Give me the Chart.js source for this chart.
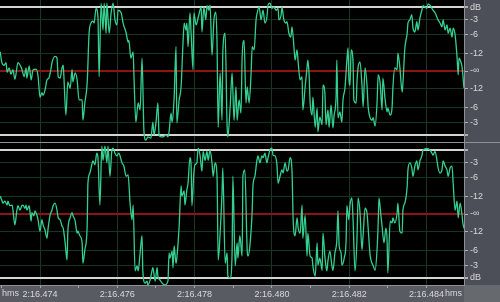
<!DOCTYPE html>
<html>
<head>
<meta charset="utf-8">
<script src="https://cdn.jsdelivr.net/npm/chart.js@4.4.0/dist/chart.umd.min.js"></script>
<style>
  html, body { margin: 0; padding: 0; background: #000; }
  #wrap { position: relative; width: 500px; height: 302px; overflow: hidden; background: #4c4f57; }
  #chTop { position: absolute; left: 0; top: 0; }
  #sep { position: absolute; left: 0; top: 142px; width: 500px; height: 1px; background: #8e9096; }
  #chBottom { position: absolute; left: 0; top: 143px; }
</style>
</head>
<body>
<div id="wrap">
  <canvas id="chTop" width="500" height="142"></canvas>
  <div id="sep"></div>
  <canvas id="chBottom" width="500" height="159"></canvas>
</div>
<script>
// time in ms relative to 2:16.474, level in display units (1 = 0 dB, 0 = -inf)
const timeMin = -1.035;
const timeMax = 10.97;

const timeTicks = [-1, 0, 1, 2, 3, 4, 5, 6, 7, 8, 9, 10];
const timeLabels = ['', '2:16.474', '', '2:16.476', '', '2:16.478', '', '2:16.480', '', '2:16.482', '', '2:16.484'];

const levelTicks = [-1, -0.8, -0.57, -0.28, 0, 0.28, 0.57, 0.8, 1];
const dbLabelsTop = ['', '-3', '-6', '-12', '-∞', '-12', '-6', '-3', 'dB'];
const dbLabelsBottom = ['dB', '-3', '-6', '-12', '-∞', '-12', '-6', '-3', ''];

// channel 1 (top)
const timesL = [
  -1.03, -0.99, -0.93, -0.88, -0.85, -0.80, -0.75, -0.70, -0.65, -0.57, -0.49, -0.47, -0.41, -0.36, -0.34, -0.28, -0.23, -0.18, -0.10, -0.05,
  0, 0.05, 0.08, 0.13, 0.18, 0.23, 0.28, 0.31, 0.39, 0.44, 0.47, 0.52, 0.57, 0.60, 0.62, 0.67, 0.72, 0.78, 0.83, 0.85, 0.91, 0.96,
  1.01, 1.09, 1.11, 1.16, 1.22, 1.27, 1.32, 1.37, 1.40, 1.45, 1.50, 1.53, 1.58, 1.63, 1.66, 1.71, 1.73, 1.79, 1.84, 1.89, 1.94, 1.99,
  2.02, 2.10, 2.15, 2.23, 2.28, 2.30, 2.35, 2.41, 2.43, 2.48, 2.54, 2.59, 2.64, 2.69, 2.74, 2.79, 2.87, 2.92, 2.95,
  3.00, 3.05, 3.08, 3.13, 3.18, 3.26, 3.31, 3.34, 3.39, 3.42, 3.47, 3.52, 3.54, 3.60, 3.65, 3.70, 3.73, 3.78, 3.80, 3.83, 3.88, 3.91, 3.96, 3.98,
  4.04, 4.09, 4.11, 4.17, 4.19, 4.24, 4.29, 4.32, 4.37, 4.40, 4.45, 4.50, 4.55, 4.58, 4.61, 4.66, 4.71, 4.73, 4.79, 4.84, 4.86, 4.92, 4.97,
  5.02, 5.07, 5.10, 5.15, 5.20, 5.23, 5.28, 5.33, 5.36, 5.41, 5.46, 5.49, 5.54, 5.59, 5.61, 5.67, 5.72, 5.77, 5.82, 5.87, 5.90, 5.95,
  6.00, 6.05, 6.11, 6.16, 6.18, 6.24, 6.26, 6.31, 6.36, 6.39, 6.44, 6.49, 6.52, 6.57, 6.60, 6.65, 6.68, 6.73, 6.78, 6.80, 6.86, 6.91, 6.93, 6.96,
  6.99, 7.04, 7.06, 7.12, 7.17, 7.19, 7.24, 7.30, 7.32, 7.37, 7.40, 7.45, 7.48, 7.53, 7.58, 7.61, 7.66, 7.68, 7.71, 7.76, 7.81, 7.84, 7.89, 7.94, 7.97, 7.99,
  8.02, 8.05, 8.10, 8.12, 8.18, 8.20, 8.23, 8.28, 8.33, 8.36, 8.41, 8.46, 8.49, 8.54, 8.59, 8.62, 8.67, 8.72, 8.75, 8.80, 8.85, 8.87, 8.93, 8.98,
  9.00, 9.06, 9.11, 9.13, 9.18, 9.24, 9.26, 9.31, 9.37, 9.39, 9.44, 9.50, 9.52, 9.57, 9.62, 9.65, 9.70, 9.75, 9.78, 9.83, 9.88, 9.91, 9.96,
  10.01, 10.04, 10.09, 10.14, 10.17, 10.22, 10.27, 10.30, 10.35, 10.40, 10.43, 10.48, 10.53, 10.56, 10.61, 10.66, 10.69, 10.74, 10.79, 10.82, 10.84, 10.89, 10.92, 10.97
];
const levelL = [
  0.30, 0.14, 0.09, 0.13, -0.02, 0.05, -0.05, 0.02, -0.13, 0.13, 0.06, 0.03, -0.09, 0.05, -0.11, 0.08, -0.14, 0.02, 0.03, -0.08,
  -0.41, -0.34, -0.38, -0.30, -0.14, -0.11, 0.02, 0.13, 0.23, 0.20, -0.09, -0.11, 0.05, 0.09, -0.11, -0.69, -0.17, -0.27, 0.02, -0.17, -0.03, -0.14,
  -0.45, -0.45, -0.77, -0.50, -0.19, 0.59, 0.75, 0.78, 0.75, 0.98, 0.83, -0.09, 1.06, 0.64, 1.06, 0.59, 1.06, 0.59, 0.91, 1.06, 0.80, 0.72,
  0.95, 0.91, 0.75, 0.59, 0.45, 0.48, 0.20, 0.30, -0.06, -0.80, -0.50, -0.61, 0.20, -0.95, -1.08, -1.03, -1.05, -0.80, -1.00,
  -0.81, -0.50, -1.00, -1.03, -1.03, -1.00, -1.03, -0.95, -0.66, -0.80, -0.42, 0.38, -0.81, -0.45, -0.25, 0.44, 0.75, 0.64, 0.75, 0.38, 0.91, 0.59, 0.02, 0.91,
  0.72, 0.83, 0.88, 1.00, 0.61, 1.00, 0.80, 1.02, 0.95, 1.03, 0.25, 0.80, 0.92, 0.45, -0.88, -0.03, -0.77, 0.30, 0.59, -0.84, -1.03, -0.56, -0.03,
  -0.77, -0.25, -0.77, -0.45, -0.66, 0.22, 0.48, -0.50, -0.25, -0.50, -0.06, 0.38, 0.33, 0.80, 0.88, 1.00, 0.80, 0.95, 0.75, 0.84, 1.03, 1.06,
  0.98, 1.00, 0.95, 0.98, 0.80, 0.88, 1.00, 0.80, 0.75, 0.77, 0.59, 0.53, 0.69, 0.38, 0.17, 0.33, 0.13, -0.14, -0.09, -0.61, -0.25, 0.06, 0.17, -0.03,
  -0.50, -0.69, -0.41, -0.88, -0.58, -0.95, -0.72, -0.84, -0.22, -0.34, -0.84, -0.61, -0.88, -0.53, -0.89, -0.69, -0.41, 0.17, -0.73, -0.64, -0.80, -0.45, -0.27, 0.17, 0.36, -0.09,
  -0.22, 0.33, 0.13, -0.45, -0.50, -0.19, 0.06, 0.14, -0.22, -0.56, 0.05, -0.22, -0.56, -0.73, -0.77, -0.73, -0.86, -0.50, -0.06, -0.19, -0.61, -0.11, -0.45, -0.64,
  -0.58, -0.69, -0.56, -0.27, 0.05, 0.02, 0.28, 0.06, -0.33, -0.19, 0.36, 0.59, 0.75, 0.80, 0.88, 0.67, 0.61, 0.77, 0.64, 0.83, 0.95, 1.02, 1.00,
  0.98, 1.05, 1.03, 0.98, 0.95, 0.91, 0.84, 0.80, 0.75, 0.69, 0.80, 0.64, 0.72, 0.59, 0.67, 0.53, 0.67, 0.56, 0.22, -0.06, 0.20, 0.14, 0.06, -0.27
];

// channel 2 (bottom)
const timesR = [
  -1.03, -0.98, -0.96, -0.91, -0.85, -0.83, -0.78, -0.72, -0.70, -0.65, -0.60, -0.57, -0.52, -0.47, -0.44, -0.39, -0.36, -0.34, -0.28, -0.23, -0.21, -0.16, -0.13, -0.08, -0.05,
  0, 0.05, 0.08, 0.13, 0.18, 0.21, 0.26, 0.31, 0.34, 0.39, 0.44, 0.47, 0.52, 0.57, 0.60, 0.65, 0.70, 0.72, 0.78, 0.83, 0.85, 0.91, 0.96, 0.98,
  1.03, 1.09, 1.11, 1.16, 1.22, 1.24, 1.29, 1.35, 1.37, 1.42, 1.47, 1.50, 1.55, 1.60, 1.63, 1.68, 1.73, 1.76, 1.81, 1.86, 1.89, 1.94, 1.99,
  2.04, 2.12, 2.17, 2.23, 2.28, 2.33, 2.38, 2.41, 2.46, 2.51, 2.54, 2.59, 2.64, 2.66, 2.72, 2.77, 2.79, 2.85, 2.90, 2.92, 2.98,
  3.03, 3.05, 3.10, 3.16, 3.23, 3.31, 3.34, 3.36, 3.42, 3.44, 3.47, 3.52, 3.54, 3.60, 3.65, 3.67, 3.73, 3.75, 3.80, 3.83, 3.88, 3.91, 3.93, 3.98,
  4.01, 4.06, 4.09, 4.14, 4.19, 4.22, 4.27, 4.32, 4.35, 4.40, 4.45, 4.48, 4.53, 4.58, 4.61, 4.66, 4.71, 4.73, 4.79, 4.84, 4.86, 4.92, 4.97, 4.99,
  5.05, 5.10, 5.12, 5.17, 5.23, 5.25, 5.30, 5.36, 5.38, 5.43, 5.49, 5.51, 5.56, 5.61, 5.64, 5.69, 5.74, 5.77, 5.82, 5.87, 5.90, 5.95,
  6.00, 6.03, 6.08, 6.13, 6.16, 6.21, 6.26, 6.29, 6.34, 6.39, 6.42, 6.47, 6.52, 6.55, 6.60, 6.65, 6.68, 6.73, 6.78, 6.80, 6.86, 6.91, 6.93,
  6.99, 7.04, 7.06, 7.12, 7.17, 7.19, 7.24, 7.30, 7.32, 7.37, 7.42, 7.45, 7.50, 7.55, 7.58, 7.63, 7.68, 7.71, 7.74, 7.79, 7.81, 7.87, 7.92, 7.94, 7.99,
  8.02, 8.07, 8.10, 8.15, 8.20, 8.23, 8.28, 8.33, 8.36, 8.41, 8.46, 8.49, 8.54, 8.59, 8.62, 8.67, 8.72, 8.75, 8.77, 8.82, 8.85, 8.90, 8.95, 8.98,
  9.00, 9.06, 9.11, 9.13, 9.18, 9.24, 9.26, 9.31, 9.37, 9.39, 9.44, 9.50, 9.52, 9.57, 9.62, 9.65, 9.70, 9.75, 9.78, 9.83, 9.88, 9.91,
  10.01, 10.09, 10.14, 10.17, 10.22, 10.27, 10.30, 10.35, 10.40, 10.43, 10.48, 10.53, 10.56, 10.61, 10.66, 10.69, 10.74, 10.79, 10.82, 10.87, 10.92, 10.94, 10.99
];
const levelR = [
  0.28, 0.20, 0.17, 0.20, 0.14, 0.20, 0.13, 0.14, 0.06, -0.17, 0.05, 0.13, 0.06, 0.13, 0.14, 0.09, 0.14, 0.06, 0.13, -0.11, 0.02, -0.03, 0.05, -0.02, -0.09,
  -0.27, -0.09, -0.17, -0.25, -0.38, -0.22, -0.02, 0.06, 0.13, 0.17, 0.06, -0.06, -0.09, -0.19, -0.22, -0.45, -0.72, -0.27, -0.06, 0.02, -0.02, -0.11, -0.30, -0.27,
  -0.34, -0.45, -0.77, -0.56, -0.19, 0.48, 0.64, 0.80, 0.83, 0.77, 0.95, 0.88, 0.14, 1.06, 0.84, 1.06, 0.80, 1.06, 0.59, 1.00, 1.03, 0.95, 0.91,
  0.95, 0.80, 0.75, 0.59, 0.61, 0.17, -0.09, 0.14, -0.89, -0.81, -0.89, -0.61, -0.34, -0.89, -1.08, -1.05, -1.11, -1.03, -0.88, -0.84, -1.05,
  -0.84, -0.97, -1.03, -1.08, -1.11, -1.05, -0.61, -0.69, -0.58, -0.84, -0.50, -0.77, -0.69, -0.19, 0.44, 0.28, 0.36, 0.14, 0.38, 0.48, 0.88, 0.75, 0.13, 0.64,
  0.77, 0.80, 1.03, 0.92, 0.67, 0.98, 0.84, 0.98, 0.84, 1.00, 0.80, 0.59, 0.80, 0.59, -0.72, -0.30, 0.33, 0.72, -0.77, -0.61, -0.97, -1.00, -0.61, 0.59,
  -0.81, -0.45, -0.69, -0.34, -0.66, 0.59, 0.69, -0.56, -0.66, -0.50, 0.06, 0.44, 0.59, 0.83, 0.91, 0.80, 0.91, 0.88, 0.95, 0.80, 0.88, 1.00,
  1.03, 0.92, 0.91, 0.77, 0.48, 0.59, 0.69, 0.64, 0.80, 0.67, 0.69, 0.88, 0.67, -0.09, -0.34, -0.06, -0.22, -0.30, 0.14, -0.38, -0.02, -0.66, -0.30,
  -0.66, -0.69, -0.81, -0.97, -0.45, -0.80, -0.69, -0.88, -0.30, -0.66, -0.89, -0.73, -0.58, -0.80, -0.88, -0.61, -0.41, 0.05, -0.50, -0.61, -0.80, -0.69, -0.41, 0.13, -0.09,
  0.14, 0.25, -0.09, -0.89, -0.41, 0.25, 0.02, -0.56, -0.33, 0.09, 0.02, -0.22, -0.64, -0.77, -0.81, -0.88, -0.56, -0.14, 0.25, -0.02, -0.19, -0.45, -0.22, -0.41,
  -0.92, -0.11, -0.14, -0.06, -0.14, 0.02, 0.17, -0.27, -0.30, 0.06, 0.17, 0.44, 0.69, 0.80, 0.72, 0.59, 0.75, 0.83, 0.69, 0.83, 0.91, 1.00,
  1.02, 1.00, 0.95, 0.92, 0.98, 0.84, 0.72, 0.64, 0.69, 0.83, 0.75, 0.69, 0.59, 0.72, 0.75, 0.48, 0.06, 0.20, -0.06, 0.17, -0.02, -0.14, -0.25
];

const fontFamily = '"Liberation Sans", Arial, sans-serif';

// fond gris pour les règles, noir pour la zone d'onde
const panelPlugin = {
  id: 'panels',
  beforeDraw(chart) {
    const { ctx, chartArea: a, width, height } = chart;
    ctx.save();
    ctx.fillStyle = '#4c4f57';
    ctx.fillRect(0, 0, width, height);
    if (height > a.bottom + 1) {
      ctx.fillStyle = '#585b61';
      ctx.fillRect(0, a.bottom, a.right, height - a.bottom);
      ctx.fillStyle = '#66696e';
      ctx.fillRect(a.right, a.bottom, width - a.right, height - a.bottom);
    }
    ctx.fillStyle = '#000';
    ctx.fillRect(a.left, a.top, a.right - a.left, a.bottom - a.top);
    ctx.restore();
  },
  // ligne rouge du -inf, sous l'onde
  beforeDatasetsDraw(chart) {
    const { ctx, chartArea: a, scales } = chart;
    const y = Math.round(scales.y.getPixelForValue(0));
    ctx.save();
    ctx.fillStyle = '#8e1414';
    ctx.fillRect(a.left, y - 1, a.right - a.left, 2);
    ctx.restore();
  }
};

// unité "hms" aux deux bouts de la règle de temps
const hmsPlugin = {
  id: 'hms',
  afterDraw(chart) {
    const { ctx, chartArea: a } = chart;
    ctx.save();
    ctx.fillStyle = '#d8d8d8';
    ctx.font = '9px ' + fontFamily;
    ctx.textBaseline = 'middle';
    ctx.textAlign = 'left';
    ctx.fillText('hms', 2, a.bottom + 9);
    ctx.textAlign = 'right';
    ctx.fillText('hms', a.right - 2, a.bottom + 9);
    ctx.restore();
  }
};

function levelGridColor(c) {
  const v = c.tick ? c.tick.value : null;
  if (v === 0) return 'rgba(0,0,0,0)';
  if (Math.abs(v) === 1) return '#d4d4d4';
  return '#15361f';
}

function makeChannel(canvasId, times, levels, dbLabels, showTime) {
  const points = times.map((t, i) => ({ x: t, y: levels[i] }));
  const ctx = document.getElementById(canvasId).getContext('2d');
  return new Chart(ctx, {
    type: 'line',
    data: {
      datasets: [{
        data: points,
        borderColor: '#34d08f',
        borderWidth: 1.3,
        pointRadius: 0,
        cubicInterpolationMode: 'monotone',
        fill: false
      }]
    },
    options: {
      responsive: false,
      animation: false,
      devicePixelRatio: 1,
      layout: { padding: 0 },
      plugins: { legend: { display: false }, tooltip: { enabled: false } },
      scales: {
        x: {
          type: 'linear',
          min: timeMin,
          max: timeMax,
          afterBuildTicks: s => { s.ticks = timeTicks.map(v => ({ value: v })); },
          afterFit: s => {
            s.height = showTime ? 17 : 0;
            s.paddingLeft = 0;
            s.paddingRight = 0;
          },
          grid: {
            color: c => (c.tick && timeLabels[timeTicks.indexOf(c.tick.value)] ? '#1b3626' : 'rgba(0,0,0,0)'),
            tickColor: '#a8a8a8',
            tickLength: 3
          },
          border: { color: '#8e9096' },
          ticks: {
            display: showTime,
            autoSkip: false,
            maxRotation: 0,
            padding: 1,
            color: '#d8d8d8',
            font: { family: fontFamily, size: 9 },
            callback: (v, i) => timeLabels[i]
          }
        },
        y: {
          type: 'linear',
          position: 'right',
          min: -1.11,
          max: 1.11,
          afterBuildTicks: s => { s.ticks = levelTicks.map(v => ({ value: v })); },
          afterFit: s => {
            s.width = 36;
            s.paddingTop = 0;
            s.paddingBottom = 0;
          },
          grid: {
            color: levelGridColor,
            lineWidth: c => (c.tick && Math.abs(c.tick.value) === 1 ? 2 : 1),
            tickColor: '#b0b0b0',
            tickLength: 4
          },
          border: { color: '#8e9096' },
          ticks: {
            padding: 2,
            color: '#d8d8d8',
            font: { family: fontFamily, size: 9 },
            callback: (v, i) => dbLabels[i]
          }
        }
      }
    },
    plugins: showTime ? [panelPlugin, hmsPlugin] : [panelPlugin]
  });
}

makeChannel('chTop', timesL, levelL, dbLabelsTop, false);
makeChannel('chBottom', timesR, levelR, dbLabelsBottom, true);
</script>
</body>
</html>
